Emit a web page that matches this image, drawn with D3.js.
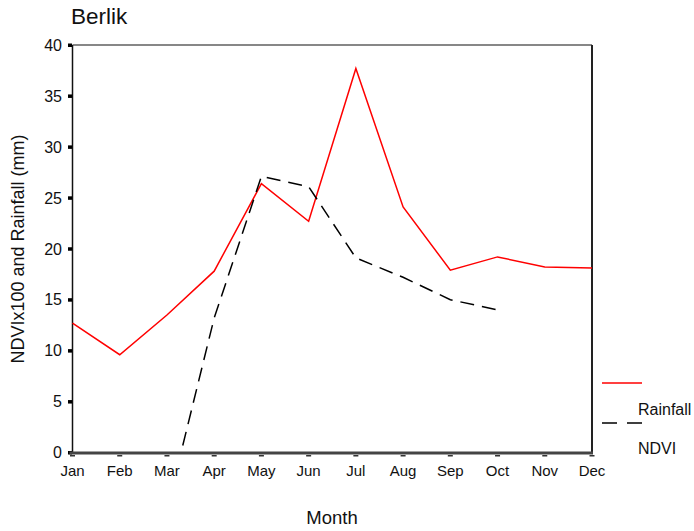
<!DOCTYPE html>
<html>
<head>
<meta charset="utf-8">
<script src="https://cdn.jsdelivr.net/npm/d3@7"></script>
<style>
  html, body { margin: 0; padding: 0; background: #fff; }
  svg text { font-family: "Liberation Sans", Arial, sans-serif; fill: #111; }
</style>
</head>
<body>
<svg id="chart" width="694" height="531"></svg>
<script>
const months = ["Jan","Feb","Mar","Apr","May","Jun","Jul","Aug","Sep","Oct","Nov","Dec"];
const rainfall = [12.7, 9.6, 13.5, 17.8, 26.4, 22.7, 37.7, 24.1, 17.9, 19.2, 18.2, 18.1];
const ndviMonths = ["Mar","Apr","May","Jun","Jul","Aug","Sep","Oct"];
const ndvi = [-5.6, 13.2, 27.1, 26.1, 19.1, 17.2, 15.0, 14.0];
const yTicks = [0, 5, 10, 15, 20, 25, 30, 35, 40];
const title = "Berlik";
const xTitle = "Month";
const yTitle = "NDVIx100 and Rainfall (mm)";
const legendLabels = ["Rainfall", "NDVI"];

const svg = d3.select("#chart");
const pL = 72.5, pR = 592, pT = 45, pB = 452.5;

const x = d3.scalePoint().domain(months).range([pL, pR]);
const y = d3.scaleLinear().domain([0, 40]).range([pB, pT]);

svg.append("defs").append("clipPath").attr("id", "plotclip")
  .append("rect").attr("x", pL - 2).attr("y", pT - 2)
  .attr("width", pR - pL + 4).attr("height", pB - pT + 2);

// frame
svg.append("line").attr("x1", pL).attr("x2", pR).attr("y1", pT).attr("y2", pT)
  .attr("stroke", "#111").attr("stroke-width", 1.2);
svg.append("line").attr("x1", pR).attr("x2", pR).attr("y1", pT).attr("y2", pB + 1)
  .attr("stroke", "#222").attr("stroke-width", 2);
svg.append("line").attr("x1", pL).attr("x2", pL).attr("y1", pT).attr("y2", pB)
  .attr("stroke", "#111").attr("stroke-width", 1.5);

// y ticks
const yg = svg.append("g");
yg.selectAll("rect").data(yTicks).enter().append("rect")
  .attr("x", pL - 4.5).attr("y", d => y(d) - 1.5).attr("width", 4).attr("height", 3.5)
  .attr("fill", "#000");
yg.selectAll("text").data(yTicks).enter().append("text")
  .attr("x", 62).attr("y", d => y(d)).attr("dy", "0.36em")
  .attr("text-anchor", "end").attr("font-size", 16).text(d => d);

// x axis line (thick)
svg.append("line").attr("x1", pL - 3).attr("x2", pR + 1).attr("y1", pB + 0.5).attr("y2", pB + 0.5)
  .attr("stroke", "#444").attr("stroke-width", 3);

// x ticks
const xg = svg.append("g");
xg.selectAll("rect").data(months).enter().append("rect")
  .attr("x", d => x(d) - 2.5).attr("y", pB + 2.5).attr("width", 5).attr("height", 1.5)
  .attr("fill", "#333");
xg.selectAll("text").data(months).enter().append("text")
  .attr("x", d => x(d)).attr("y", 476)
  .attr("text-anchor", "middle").attr("font-size", 15).text(d => d);

// lines
const rainLine = d3.line().x((d, i) => x(months[i])).y(d => y(d));
svg.append("path").datum(rainfall).attr("d", rainLine)
  .attr("fill", "none").attr("stroke", "#ff0000").attr("stroke-width", 1.5);

const ndviLine = d3.line().x((d, i) => x(ndviMonths[i])).y(d => y(d));
svg.append("path").datum(ndvi).attr("d", ndviLine)
  .attr("clip-path", "url(#plotclip)")
  .attr("fill", "none").attr("stroke", "#000").attr("stroke-width", 1.5)
  .attr("stroke-dasharray", "14,8");

// titles
svg.append("text").attr("x", 71).attr("y", 24).attr("font-size", 22.5).text(title);
svg.append("text").attr("x", 332).attr("y", 524).attr("text-anchor", "middle")
  .attr("font-size", 18.5).text(xTitle);
svg.append("text").attr("transform", "translate(24,249) rotate(-90)")
  .attr("text-anchor", "middle").attr("font-size", 18).text(yTitle);

// legend
svg.append("line").attr("x1", 602).attr("x2", 642).attr("y1", 383).attr("y2", 383)
  .attr("stroke", "#ff0000").attr("stroke-width", 1.5);
svg.append("line").attr("x1", 602).attr("x2", 643).attr("y1", 423).attr("y2", 423)
  .attr("stroke", "#000").attr("stroke-width", 1.5).attr("stroke-dasharray", "15,10");
svg.append("text").attr("x", 638).attr("y", 415).attr("font-size", 16).text(legendLabels[0]);
svg.append("text").attr("x", 638).attr("y", 454).attr("font-size", 16).text(legendLabels[1]);
</script>
</body>
</html>
